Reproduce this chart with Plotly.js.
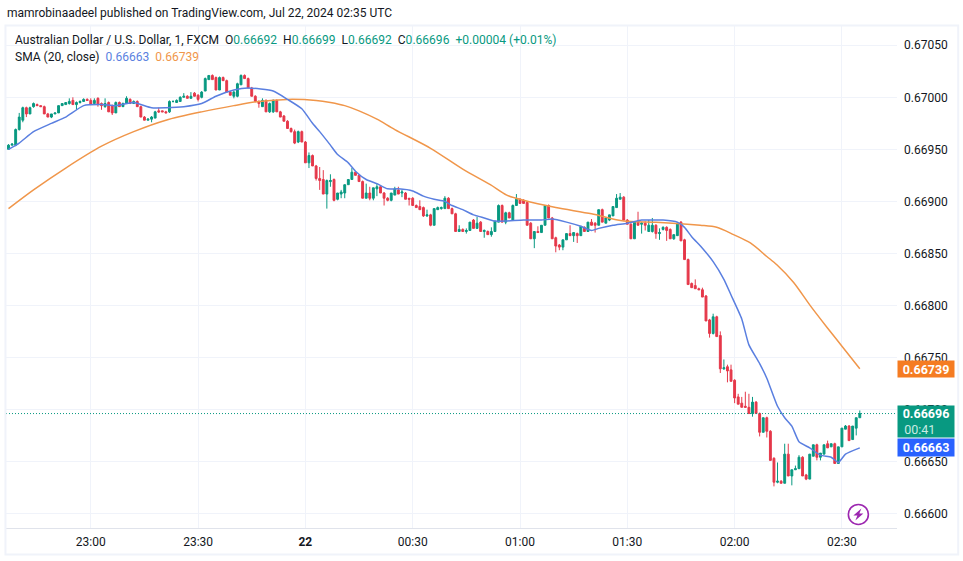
<!DOCTYPE html>
<html><head><meta charset="utf-8">
<script src="https://cdn.plot.ly/plotly-3.0.1.min.js"></script>
<style>html,body{margin:0;padding:0;background:#fff}#c{width:963px;height:561px}</style>
</head><body><div id="c"></div>
<script>
const open = [
0.66950,0.66954,0.66954,0.66969,0.66978,0.66990,0.66984,0.66991,0.66993,0.66992,
0.66991,0.66984,0.66981,0.66984,0.66985,0.66992,0.66993,0.66994,0.66997,0.66993,
0.66995,0.66996,0.66998,0.66997,0.66994,0.66999,0.66994,0.66991,0.66995,0.66992,
0.66985,0.66995,0.66991,0.66994,0.66998,0.66994,0.66996,0.66991,0.66981,0.66978,
0.66979,0.66980,0.66987,0.66987,0.66986,0.66986,0.66996,0.66995,0.66996,0.67000,
0.67001,0.66999,0.67004,0.67002,0.67000,0.67006,0.67017,0.67021,0.67019,0.67007,
0.67019,0.67016,0.67005,0.67001,0.67001,0.67012,0.67021,0.67018,0.67009,0.67001,
0.66996,0.66991,0.66997,0.66986,0.66986,0.66997,0.66986,0.66982,0.66977,0.66970,
0.66967,0.66957,0.66967,0.66957,0.66937,0.66944,0.66934,0.66922,0.66921,0.66907,
0.66919,0.66921,0.66902,0.66907,0.66908,0.66916,0.66921,0.66928,0.66925,0.66919,
0.66903,0.66908,0.66903,0.66912,0.66914,0.66908,0.66903,0.66901,0.66906,0.66911,
0.66908,0.66908,0.66903,0.66903,0.66896,0.66895,0.66894,0.66886,0.66887,0.66877,
0.66892,0.66893,0.66893,0.66903,0.66893,0.66888,0.66871,0.66873,0.66871,0.66872,
0.66882,0.66874,0.66880,0.66871,0.66871,0.66868,0.66871,0.66880,0.66896,0.66880,
0.66889,0.66882,0.66896,0.66902,0.66901,0.66899,0.66879,0.66864,0.66871,0.66870,
0.66877,0.66896,0.66884,0.66865,0.66858,0.66856,0.66863,0.66869,0.66867,0.66869,
0.66867,0.66875,0.66871,0.66880,0.66879,0.66877,0.66892,0.66879,0.66882,0.66886,
0.66894,0.66902,0.66904,0.66882,0.66878,0.66864,0.66881,0.66878,0.66879,0.66871,
0.66871,0.66877,0.66869,0.66873,0.66875,0.66873,0.66864,0.66867,0.66880,0.66863,
0.66844,0.66821,0.66819,0.66816,0.66815,0.66809,0.66786,0.66773,0.66789,0.66771,
0.66739,0.66741,0.66738,0.66728,0.66712,0.66706,0.66703,0.66702,0.66696,0.66707,
0.66696,0.66678,0.66692,0.66679,0.66653,0.66630,0.66631,0.66629,0.66657,0.66636,
0.66642,0.66643,0.66654,0.66637,0.66633,0.66655,0.66666,0.66654,0.66657,0.66667,
0.66664,0.66667,0.66648,0.66664,0.66681,0.66684,0.66671,0.66682,0.66692];
const high = [
0.66955,0.66956,0.66970,0.66985,0.66991,0.66991,0.66991,0.66995,0.66994,0.66992,
0.66992,0.66985,0.66984,0.66985,0.66992,0.66994,0.66995,0.66999,0.67000,0.66996,
0.66997,0.66999,0.66999,0.66999,0.66999,0.67000,0.66995,0.66999,0.66996,0.66993,
0.66996,0.66996,0.66995,0.67001,0.66999,0.66997,0.66997,0.66992,0.66982,0.66980,
0.66982,0.66987,0.66990,0.66987,0.66987,0.66997,0.66997,0.66998,0.67001,0.67004,
0.67002,0.67005,0.67005,0.67003,0.67006,0.67019,0.67021,0.67022,0.67020,0.67020,
0.67020,0.67017,0.67006,0.67006,0.67014,0.67022,0.67022,0.67019,0.67010,0.67002,
0.66997,0.66999,0.66998,0.66995,0.66998,0.66998,0.66987,0.66983,0.66978,0.66971,
0.66969,0.66968,0.66968,0.66958,0.66947,0.66945,0.66935,0.66933,0.66930,0.66921,
0.66926,0.66922,0.66908,0.66911,0.66916,0.66921,0.66932,0.66929,0.66926,0.66920,
0.66917,0.66914,0.66913,0.66917,0.66915,0.66909,0.66904,0.66908,0.66914,0.66914,
0.66911,0.66909,0.66903,0.66904,0.66897,0.66901,0.66895,0.66892,0.66888,0.66893,
0.66895,0.66895,0.66905,0.66904,0.66894,0.66889,0.66877,0.66874,0.66874,0.66880,
0.66883,0.66885,0.66881,0.66873,0.66872,0.66875,0.66881,0.66897,0.66897,0.66890,
0.66890,0.66897,0.66907,0.66903,0.66902,0.66900,0.66880,0.66871,0.66876,0.66877,
0.66896,0.66897,0.66885,0.66866,0.66859,0.66863,0.66869,0.66877,0.66870,0.66870,
0.66876,0.66876,0.66880,0.66883,0.66880,0.66892,0.66893,0.66884,0.66887,0.66895,
0.66907,0.66908,0.66905,0.66883,0.66879,0.66880,0.66890,0.66880,0.66881,0.66882,
0.66884,0.66878,0.66874,0.66876,0.66876,0.66874,0.66868,0.66880,0.66881,0.66864,
0.66845,0.66822,0.66825,0.66817,0.66817,0.66810,0.66787,0.66792,0.66790,0.66775,
0.66748,0.66743,0.66743,0.66729,0.66715,0.66712,0.66717,0.66715,0.66712,0.66708,
0.66697,0.66692,0.66693,0.66680,0.66654,0.66649,0.66632,0.66667,0.66667,0.66642,
0.66646,0.66656,0.66655,0.66638,0.66657,0.66666,0.66667,0.66658,0.66666,0.66670,
0.66667,0.66668,0.66664,0.66682,0.66685,0.66685,0.66684,0.66692,0.66699];
const low = [
0.66950,0.66954,0.66953,0.66968,0.66976,0.66981,0.66984,0.66990,0.66992,0.66991,
0.66984,0.66981,0.66980,0.66984,0.66985,0.66992,0.66993,0.66993,0.66993,0.66988,
0.66994,0.66996,0.66997,0.66993,0.66993,0.66991,0.66988,0.66990,0.66986,0.66983,
0.66985,0.66991,0.66991,0.66994,0.66994,0.66994,0.66991,0.66981,0.66978,0.66978,
0.66976,0.66980,0.66985,0.66986,0.66985,0.66985,0.66995,0.66995,0.66996,0.67000,
0.66999,0.66999,0.67001,0.66996,0.66999,0.67006,0.67017,0.67017,0.67007,0.67007,
0.67016,0.67005,0.67002,0.66999,0.67000,0.67012,0.67018,0.67009,0.67001,0.66996,
0.66990,0.66991,0.66986,0.66985,0.66985,0.66986,0.66981,0.66977,0.66970,0.66966,
0.66955,0.66956,0.66957,0.66937,0.66932,0.66934,0.66920,0.66911,0.66907,0.66893,
0.66914,0.66900,0.66901,0.66903,0.66903,0.66916,0.66921,0.66925,0.66919,0.66903,
0.66903,0.66901,0.66901,0.66905,0.66908,0.66896,0.66900,0.66900,0.66906,0.66907,
0.66904,0.66902,0.66896,0.66896,0.66894,0.66892,0.66885,0.66885,0.66876,0.66877,
0.66892,0.66892,0.66893,0.66893,0.66888,0.66871,0.66871,0.66871,0.66869,0.66872,
0.66874,0.66874,0.66871,0.66865,0.66868,0.66866,0.66871,0.66880,0.66880,0.66878,
0.66884,0.66882,0.66896,0.66898,0.66898,0.66877,0.66864,0.66855,0.66870,0.66870,
0.66877,0.66884,0.66864,0.66851,0.66853,0.66853,0.66863,0.66867,0.66861,0.66860,
0.66867,0.66871,0.66871,0.66877,0.66870,0.66877,0.66880,0.66879,0.66881,0.66886,
0.66894,0.66902,0.66882,0.66878,0.66864,0.66864,0.66877,0.66869,0.66872,0.66871,
0.66870,0.66864,0.66863,0.66872,0.66862,0.66864,0.66863,0.66867,0.66862,0.66844,
0.66820,0.66817,0.66816,0.66815,0.66808,0.66785,0.66769,0.66772,0.66770,0.66735,
0.66738,0.66726,0.66727,0.66706,0.66705,0.66702,0.66702,0.66696,0.66693,0.66696,
0.66674,0.66678,0.66673,0.66651,0.66626,0.66629,0.66629,0.66629,0.66636,0.66627,
0.66642,0.66643,0.66636,0.66632,0.66633,0.66655,0.66651,0.66651,0.66657,0.66663,
0.66664,0.66648,0.66648,0.66664,0.66681,0.66670,0.66671,0.66675,0.66692];
const close = [
0.66954,0.66955,0.66969,0.66981,0.66990,0.66984,0.66990,0.66994,0.66992,0.66991,
0.66984,0.66981,0.66984,0.66985,0.66992,0.66994,0.66995,0.66996,0.66993,0.66995,
0.66996,0.66998,0.66997,0.66993,0.66997,0.66993,0.66992,0.66994,0.66986,0.66985,
0.66995,0.66991,0.66994,0.66999,0.66994,0.66996,0.66991,0.66981,0.66978,0.66979,
0.66981,0.66986,0.66986,0.66986,0.66985,0.66996,0.66996,0.66997,0.67000,0.67001,
0.66999,0.67001,0.67001,0.66998,0.67005,0.67018,0.67021,0.67017,0.67007,0.67019,
0.67016,0.67005,0.67002,0.67005,0.67013,0.67021,0.67018,0.67009,0.67001,0.66996,
0.66994,0.66997,0.66986,0.66994,0.66997,0.66986,0.66981,0.66977,0.66970,0.66967,
0.66956,0.66967,0.66957,0.66937,0.66944,0.66934,0.66922,0.66920,0.66907,0.66920,
0.66920,0.66901,0.66908,0.66909,0.66916,0.66921,0.66928,0.66925,0.66919,0.66903,
0.66908,0.66903,0.66913,0.66914,0.66908,0.66903,0.66901,0.66908,0.66912,0.66907,
0.66909,0.66902,0.66902,0.66896,0.66894,0.66892,0.66886,0.66887,0.66877,0.66893,
0.66894,0.66894,0.66903,0.66893,0.66888,0.66871,0.66873,0.66871,0.66872,0.66880,
0.66874,0.66879,0.66871,0.66872,0.66868,0.66871,0.66881,0.66896,0.66880,0.66889,
0.66884,0.66896,0.66902,0.66898,0.66898,0.66877,0.66864,0.66871,0.66870,0.66877,
0.66896,0.66884,0.66864,0.66857,0.66856,0.66863,0.66869,0.66867,0.66870,0.66867,
0.66876,0.66871,0.66880,0.66877,0.66877,0.66892,0.66880,0.66884,0.66887,0.66895,
0.66903,0.66904,0.66882,0.66878,0.66864,0.66880,0.66877,0.66879,0.66877,0.66877,
0.66877,0.66869,0.66870,0.66875,0.66872,0.66864,0.66868,0.66879,0.66862,0.66844,
0.66820,0.66817,0.66816,0.66815,0.66808,0.66785,0.66773,0.66789,0.66770,0.66739,
0.66740,0.66737,0.66727,0.66711,0.66705,0.66702,0.66702,0.66696,0.66707,0.66696,
0.66678,0.66692,0.66679,0.66651,0.66630,0.66631,0.66629,0.66657,0.66636,0.66642,
0.66643,0.66654,0.66636,0.66633,0.66657,0.66666,0.66654,0.66658,0.66666,0.66663,
0.66667,0.66648,0.66664,0.66682,0.66684,0.66670,0.66684,0.66692,0.66696];
const smaFastBars = [0,3,7,12,16,21,26,30,35,40,44,49,54,58,63,67,74,78,82,85,87,90,92,95,97,100,103,106,109,113,116,119,122,124,127,130,133,136,139,144,149,152,156,160,163,165,169,173,177,180,183,187,189,191,194,197,200,202,205,207,210,212,215,217,219,221,224,227,230,232,234,238];
const smaFast = [0.66950,0.66956,0.66967,0.66975,0.66981,0.66992,0.66993,0.66992,0.66995,0.66990,0.66990,0.66991,0.66994,0.67001,0.67007,0.67009,0.67006,0.66998,0.66989,0.66975,0.66967,0.66954,0.66945,0.66937,0.66929,0.66921,0.66917,0.66912,0.66912,0.66910,0.66905,0.66902,0.66900,0.66896,0.66892,0.66887,0.66884,0.66881,0.66881,0.66882,0.66882,0.66883,0.66880,0.66876,0.66872,0.66874,0.66877,0.66879,0.66882,0.66882,0.66882,0.66880,0.66875,0.66866,0.66855,0.66842,0.66825,0.66810,0.66787,0.66762,0.66744,0.66730,0.66703,0.66692,0.66684,0.66669,0.66663,0.66656,0.66654,0.66649,0.66657,0.66663];
const smaSlowBars = [0,7,16,26,35,44,54,63,70,78,86,90,94,98,103,108,118,127,134.7,139.3,144,153,163,172,181,193.4,198,202.7,207.4,212,214.8,219.5,224.1,228.8,233.4,238];
const smaSlow = [0.66893,0.66911,0.66932,0.66953,0.66967,0.66978,0.66986,0.66992,0.66996,0.66998,0.66997,0.66995,0.66992,0.66987,0.66979,0.66969,0.66951,0.66931,0.66916,0.66906,0.66901,0.66894,0.66888,0.66881,0.66880,0.66877,0.66875,0.66868,0.66860,0.66847,0.66839,0.66822,0.66800,0.66779,0.66759,0.66739];
const tickBars = [23,53,83,113,143,173,203,233];
const tickLabels = ["23:00","23:30","<b>22</b>","00:30","01:00","01:30","02:00","02:30"];
const priceTicks = [0.66600,0.66650,0.66700,0.66750,0.66800,0.66850,0.66900,0.66950,0.67000,0.67050];
const lastPrice = 0.66696, fastLast = 0.66663, slowLast = 0.66739;
const headerTitle = "mamrobinaadeel published on TradingView.com, Jul 22, 2024 02:35 UTC";
const countdown = "00:41";
const GREEN="#089981", RED="#e5384a", BLUE="#5a7fe0", ORANGE="#f0964a";
const FONT="Roboto, Arial, sans-serif";
const FRAME="#f0f3fa";
const bars = open.map((_,i)=>i);
const gv = s=>`<span style="color:${GREEN}">${s}</span>`;
const legend1 = `Australian Dollar / U.S. Dollar, 1, FXCM  O${gv("0.66692")}  H${gv("0.66699")}  L${gv("0.66692")}  C${gv("0.66696")}  ${gv("+0.00004 (+0.01%)")}`;
const legend2 = `SMA (20, close)  <span style="color:${BLUE}">0.66663</span>  <span style="color:${ORANGE}">0.66739</span>`;
const boxLabel=(y,text,bg,h)=>({xref:"paper",yref:"y",x:1.0005,y:y,xanchor:"left",yanchor:"middle",text:text,showarrow:false,align:"center",
  bgcolor:bg,width:56,height:h,font:{family:FONT,size:12.5,color:"#fff"},borderpad:0});
const traces=[
 {type:"candlestick",x:bars,open:open,high:high,low:low,close:close,
  increasing:{line:{color:GREEN,width:1},fillcolor:GREEN},decreasing:{line:{color:RED,width:1},fillcolor:RED},
  whiskerwidth:0,hoverinfo:"skip",showlegend:false},
 {type:"scatter",mode:"lines",x:smaSlowBars,y:smaSlow,line:{color:ORANGE,width:1.5,shape:"spline",smoothing:0.8},hoverinfo:"skip",showlegend:false},
 {type:"scatter",mode:"lines",x:smaFastBars,y:smaFast,line:{color:BLUE,width:1.5,shape:"spline",smoothing:0.5},hoverinfo:"skip",showlegend:false}
];
const layout={
 width:963,height:561,margin:{l:6,r:66.3,t:25,b:33.3,pad:0},boxgap:0.25,
 paper_bgcolor:"#ffffff",plot_bgcolor:"#ffffff",font:{family:FONT,size:12,color:"#131722"},showlegend:false,
 xaxis:{type:"linear",range:[-0.7,248.4],tickmode:"array",tickvals:tickBars,ticktext:tickLabels,showgrid:true,gridcolor:"#f0f3fa",gridwidth:1,
   zeroline:false,ticks:"",showline:true,linecolor:"#e0e3eb",rangeslider:{visible:false},ticklabelstandoff:3,tickfont:{family:FONT,size:12,color:"#131722"}},
 yaxis:{type:"linear",side:"right",range:[0.66586,0.670695],tickmode:"array",tickvals:priceTicks,ticktext:priceTicks.map(v=>v.toFixed(5)),showgrid:true,gridcolor:"#f0f3fa",
   gridwidth:1,zeroline:false,ticks:"",showline:false,ticklabelstandoff:6,tickfont:{family:FONT,size:12,color:"#131722"}},
 shapes:[
  {type:"line",xref:"paper",x0:0,x1:1,yref:"y",y0:lastPrice,y1:lastPrice,line:{color:GREEN,width:1,dash:"1px,2px"},layer:"above"},
  {type:"rect",xref:"paper",yref:"paper",x0:-0.0006,x1:1.0687,y0:0.9990,y1:-0.0525,line:{color:FRAME,width:2},fillcolor:"rgba(0,0,0,0)",layer:"above"},
  {type:"circle",xref:"x",yref:"y",xsizemode:"pixel",ysizemode:"pixel",xanchor:237.6,yanchor:0.66599,x0:-10,x1:10,y0:-10,y1:10,line:{color:"#9c27b0",width:1.6},fillcolor:"#fff",layer:"above"},
  {type:"path",xref:"x",yref:"y",xsizemode:"pixel",ysizemode:"pixel",xanchor:237.6,yanchor:0.66599,path:"M 3 6 L -5 -1 L -1 -1 L -3 -6 L 5 1 L 1 1 Z",fillcolor:"#9c27b0",line:{width:0},layer:"above"}
 ],
 annotations:[
  {xref:"paper",yref:"paper",x:0,y:1,xshift:-1,yshift:12,xanchor:"left",yanchor:"middle",text:headerTitle,showarrow:false,font:{family:FONT,size:12,color:"#131722"}},
  {xref:"paper",yref:"paper",x:0,y:1,xshift:7,yshift:-15,xanchor:"left",yanchor:"middle",text:legend1,showarrow:false,font:{family:FONT,size:12.05,color:"#131722"}},
  {xref:"paper",yref:"paper",x:0,y:1,xshift:7,yshift:-32,xanchor:"left",yanchor:"middle",text:legend2,showarrow:false,font:{family:FONT,size:12.05,color:"#131722"}},
  boxLabel(slowLast,"<b>0.66739</b>","#f57c22",16),
  boxLabel(lastPrice-0.00008,`<b>0.66696</b><br><span style="color:#c8ebe3">${countdown}</span>\u00a0\u00a0\u00a0\u00a0`,"#089981",31),
  boxLabel(fastLast,"<b>0.66663</b>","#2962ff",17)
 ]
};
Plotly.newPlot("c",traces,layout,{staticPlot:true,displayModeBar:false});
</script></body></html>
